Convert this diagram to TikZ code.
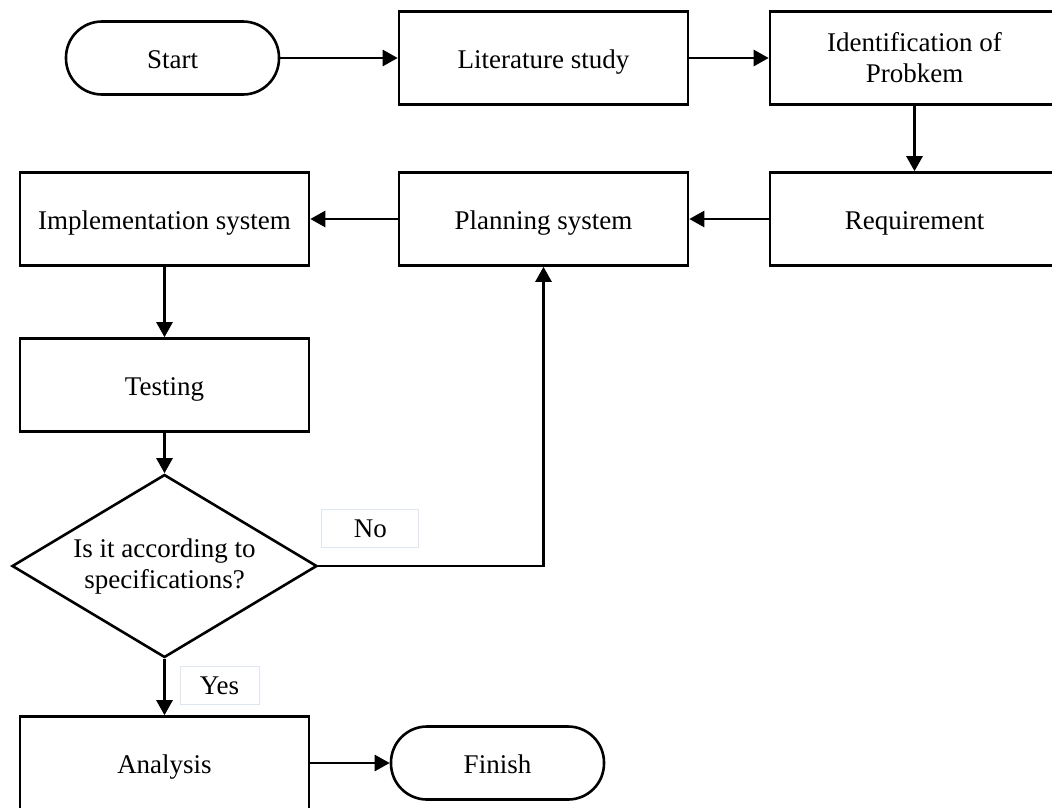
\documentclass[tikz,border=0pt]{standalone}
\usepackage{fontspec}
\setmainfont{Liberation Serif}
\usetikzlibrary{arrows.meta, positioning, shapes.geometric}

\definecolor{labelline}{RGB}{222,230,242}

\begin{document}
\begin{tikzpicture}[
        x=1pt, y=1pt,
        node distance=161pt,
        every node/.style={font=\fontsize{27}{31}\selectfont},
        startstop/.style={rectangle, rounded corners=36pt, minimum width=213pt,
            minimum height=73pt, text centered, text height=21pt, text depth=1pt,
            draw=black, line width=2.6pt},
        process/.style={rectangle, minimum width=289pt, minimum height=93pt,
            align=center, text height=21pt, text depth=1pt, draw=black, line width=2.6pt},
        decision/.style={diamond, aspect=1.67, inner sep=1pt, minimum width=305pt,
            minimum height=183pt, align=center, draw=black, line width=2.6pt},
        answer/.style={rectangle, draw=labelline, line width=1pt, fill=white,
            minimum height=38pt, inner sep=0pt},
        arrow/.style={line width=2.6pt, -{Triangle[length=15pt, width=16pt]}},
    ]
        \useasboundingbox (0,0) rectangle (1052,-807);

        \node (start) [startstop] at (172.5,-58) {Start};
        \node (literature) [process, right of=start, xshift=210pt] {Literature study};
        \node (identify) [process, right of=literature, xshift=210pt,
            text height=, text depth=] {Identification of\\Probkem};
        \node (require) [process, below of=identify] {Requirement};
        \node (planning) [process, left of=require, xshift=-210pt] {Planning system};
        \node (implement) [process, left of=planning, xshift=-218pt] {Implementation system};
        \node (testing) [process, below of=implement, yshift=-5pt] {Testing};
        \node (check) [decision, below of=testing, yshift=-20pt] {Is it according to\\specifications?};
        \node (analysis) [process, below of=check, yshift=-36pt] {Analysis};
        \node (finish) [startstop, right of=analysis, xshift=172pt] {Finish};

        \node (no) [answer, minimum width=97pt, above right=18pt and 3pt of check.east] {No};
        \node (yes) [answer, minimum width=79pt, below right=7pt and 15pt of check.south] {Yes};

        \draw [arrow] (start) -- (literature);
        \draw [arrow] (literature) -- (identify);
        \draw [arrow] (identify) -- (require);
        \draw [arrow] (require) -- (planning);
        \draw [arrow] (planning) -- (implement);
        \draw [arrow] (implement) -- (testing);
        \draw [arrow] (testing) -- (check);
        \draw [arrow] (check) -| (planning);
        \draw [arrow] (check) -- (analysis);
        \draw [arrow] (analysis) -- (finish);
    \end{tikzpicture}
\end{document}
